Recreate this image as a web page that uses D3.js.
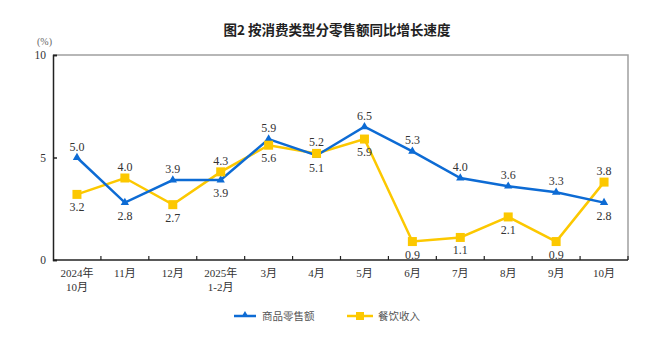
<!DOCTYPE html>
<html>
<head>
<meta charset="utf-8">
<script src="https://cdn.jsdelivr.net/npm/d3@7"></script>
<style>
  body { margin: 0; background: #fff; }
</style>
</head>
<body>
<script>
var months = ["2024年|10月", "11月", "12月", "2025年|1-2月", "3月", "4月", "5月", "6月", "7月", "8月", "9月", "10月"];
var retail = [5.0, 2.8, 3.9, 3.9, 5.9, 5.1, 6.5, 5.3, 4.0, 3.6, 3.3, 2.8];
var catering = [3.2, 4.0, 2.7, 4.3, 5.6, 5.2, 5.9, 0.9, 1.1, 2.1, 0.9, 3.8];
// label above (1) or below (-1) the point
var retailSide = [1, -1, 1, -1, 1, -1, 1, 1, 1, 1, 1, -1];
var cateringSide = [-1, 1, -1, 1, -1, 1, -1, -1, -1, -1, -1, 1];
var yTicks = [0, 5, 10];

var w = 672, h = 346;
var mLeft = 53, mRight = 628, mTop = 55, mBottom = 260;
var blue = "#0d6bd4", yellow = "#fcc800";
var serif = "'Liberation Serif', 'Times New Roman', 'Noto Sans CJK SC', serif";

var svg = d3.select("body").append("svg")
    .attr("width", w)
    .attr("height", h)
    .attr("font-family", serif)
    .attr("fill", "#333");

var x = d3.scaleBand()
    .domain(d3.range(months.length))
    .range([mLeft, mRight]);

var y = d3.scaleLinear()
    .domain([0, 10])
    .range([mBottom, mTop]);

// title
svg.append("text")
    .attr("x", 337)
    .attr("y", 35)
    .attr("text-anchor", "middle")
    .attr("font-family", "'Noto Sans CJK SC', sans-serif")
    .attr("font-size", "13.5px")
    .attr("font-weight", "bold")
    .attr("fill", "#222")
    .text("图2  按消费类型分零售额同比增长速度");

svg.append("text")
    .attr("x", 37)
    .attr("y", 45)
    .attr("font-size", "10px")
    .attr("fill", "#666")
    .text("(%)");

// frame: top and right grey
svg.append("path")
    .attr("d", "M" + mLeft + "," + mTop + "H" + mRight + "V" + mBottom)
    .attr("fill", "none")
    .attr("stroke", "#a0a0a0")
    .attr("stroke-width", 1.5);

// y axis
var yAxis = svg.append("g")
    .attr("transform", "translate(" + mLeft + ",0)")
    .call(d3.axisRight(y).tickValues(yTicks).tickSize(4).tickFormat(""));
yAxis.select(".domain").attr("stroke", "#222").attr("stroke-width", 1.5);
yAxis.selectAll(".tick line").attr("stroke", "#222").attr("stroke-width", 1.5);

svg.selectAll(".ylab")
    .data(yTicks)
    .enter()
    .append("text")
    .attr("class", "ylab")
    .attr("x", mLeft - 7)
    .attr("y", function(d){ return y(d) + 4; })
    .attr("text-anchor", "end")
    .attr("font-size", "11.5px")
    .text(function(d){ return d; });

// x axis with ticks between categories
var bounds = d3.range(months.length + 1).map(function(i){ return mLeft + i * x.step(); });
svg.append("line")
    .attr("x1", mLeft).attr("x2", mRight)
    .attr("y1", mBottom).attr("y2", mBottom)
    .attr("stroke", "#222").attr("stroke-width", 1.5);
svg.selectAll(".xtick")
    .data(bounds.slice(1))
    .enter()
    .append("line")
    .attr("class", "xtick")
    .attr("x1", function(d){ return d; })
    .attr("x2", function(d){ return d; })
    .attr("y1", mBottom)
    .attr("y2", mBottom - 4)
    .attr("stroke", "#222")
    .attr("stroke-width", 1.2);

var xl = svg.selectAll(".xlab")
    .data(months)
    .enter()
    .append("text")
    .attr("class", "xlab")
    .attr("text-anchor", "middle")
    .attr("y", 277)
    .attr("font-size", "11px");
xl.each(function(d, i){
    var parts = d.split("|");
    var t = d3.select(this);
    parts.forEach(function(p, j){
        t.append("tspan")
            .attr("x", x(i) + x.bandwidth() / 2)
            .attr("dy", j === 0 ? 0 : 14)
            .text(p);
    });
});

var cx = function(d, i){ return x(i) + x.bandwidth() / 2; };
var line = d3.line()
    .x(cx)
    .y(function(d){ return y(d); });

// catering series
svg.append("path")
    .datum(catering)
    .attr("d", line)
    .attr("fill", "none")
    .attr("stroke", yellow)
    .attr("stroke-width", 2.5);

// retail series
svg.append("path")
    .datum(retail)
    .attr("d", line)
    .attr("fill", "none")
    .attr("stroke", blue)
    .attr("stroke-width", 2.5);

var tri = d3.symbol().type(d3.symbolTriangle).size(30);
svg.selectAll(".rmark")
    .data(retail)
    .enter()
    .append("path")
    .attr("class", "rmark")
    .attr("d", tri)
    .attr("transform", function(d, i){ return "translate(" + cx(d, i) + "," + y(d) + ")"; })
    .attr("fill", blue);

svg.selectAll(".cmark")
    .data(catering)
    .enter()
    .append("rect")
    .attr("class", "cmark")
    .attr("x", function(d, i){ return cx(d, i) - 4.5; })
    .attr("y", function(d){ return y(d) - 4.5; })
    .attr("width", 9)
    .attr("height", 9)
    .attr("fill", yellow);

function addLabels(data, side, cls){
    svg.selectAll("." + cls)
        .data(data)
        .enter()
        .append("text")
        .attr("class", cls)
        .attr("text-anchor", "middle")
        .attr("x", cx)
        .attr("y", function(d, i){ return side[i] > 0 ? y(d) - 7 : y(d) + 17; })
        .attr("font-size", "12px")
        .text(function(d){ return d3.format(".1f")(d); });
}
addLabels(retail, retailSide, "rlab");
addLabels(catering, cateringSide, "clab");

// legend
var lg = svg.append("g");
lg.append("line")
    .attr("x1", 234).attr("x2", 256).attr("y1", 316).attr("y2", 316)
    .attr("stroke", blue).attr("stroke-width", 2.5);
lg.append("path")
    .attr("d", d3.symbol().type(d3.symbolTriangle).size(22))
    .attr("transform", "translate(245,315)")
    .attr("fill", blue);
lg.append("text")
    .attr("x", 262).attr("y", 320)
    .attr("font-family", "'Noto Sans CJK SC', sans-serif")
    .attr("font-size", "10.5px")
    .attr("fill", "#555")
    .text("商品零售额");
lg.append("line")
    .attr("x1", 347).attr("x2", 373).attr("y1", 316).attr("y2", 316)
    .attr("stroke", yellow).attr("stroke-width", 2.5);
lg.append("rect")
    .attr("x", 356).attr("y", 312).attr("width", 8).attr("height", 8)
    .attr("fill", yellow);
lg.append("text")
    .attr("x", 378).attr("y", 320)
    .attr("font-family", "'Noto Sans CJK SC', sans-serif")
    .attr("font-size", "10.5px")
    .attr("fill", "#555")
    .text("餐饮收入");
</script>
</body>
</html>
